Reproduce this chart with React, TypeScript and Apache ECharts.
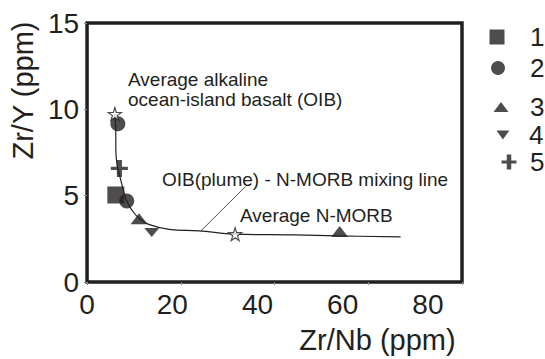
import React, { useEffect, useRef } from "react";
import * as echarts from "echarts";

// Mixing line (OIB – N-MORB)
const mixX = [5.93, 6.14, 6.14, 6.36, 7.0, 7.63, 8.47, 9.53, 11.2, 13.3, 17.5, 23.9, 31.6, 44.3, 53.5, 66.9];
const mixY = [9.73, 8.59, 7.73, 6.87, 6.12, 5.44, 4.69, 4.18, 3.66, 3.32, 3.05, 2.96, 2.77, 2.73, 2.67, 2.61];

// Leader line from label to the curve
const leaderX = [33.8, 24.3];
const leaderY = [5.53, 2.96];

// Sample groups
const s1 = [[6.14, 5.04]];
const s2 = [[6.57, 9.16], [8.47, 4.69]];
const s3 = [[11.1, 3.66], [53.9, 2.92]];
const s4 = [[13.8, 2.86]];
const s5 = [[6.9, 6.58]];

// Reference compositions (stars): average OIB, average N-MORB
const refStars = [[5.93, 9.73], [31.6, 2.77]];

const xTicks = [0, 20, 40, 60, 80];
const yTicks = [0, 5, 10, 15];

const INK = "#231f20";
const FONT = "'Liberation Sans', Arial, sans-serif";
const STAR = "path://M50,0 L61,35 L98,35 L68,57 L79,91 L50,70 L21,91 L32,57 L2,35 L39,35 Z";
const DOWN_TRI = "path://M0,0 L10,0 L5,7 Z";
const PLUS = "path://M0,8 L20,8 L20,12 L0,12 Z M7,0 L13,0 L13,20 L7,20 Z";

export default function App() {
  const ref = useRef<HTMLDivElement>(null);
  useEffect(() => {
    if (!ref.current) return;
    const chart = echarts.init(ref.current, null, { renderer: "svg" });
    const pairs = (xs: number[], ys: number[]) => xs.map((x, i) => [x, ys[i]]);
    const legendDefs = [
      { name: "1", icon: "rect", w: 15, h: 15, cx: 497, cy: 37 },
      { name: "2", icon: "circle", w: 14, h: 14, cx: 498, cy: 68 },
      { name: "3", icon: "triangle", w: 15, h: 10, cx: 501, cy: 107 },
      { name: "4", icon: DOWN_TRI, w: 15, h: 9, cx: 504, cy: 135 },
      { name: "5", icon: PLUS, w: 15, h: 15, cx: 509, cy: 162 },
    ];
    const textLeft = 530;
    chart.setOption({
      animation: false,
      grid: {
        left: 84, top: 23, right: 83, bottom: 74,
        show: true, borderColor: INK, borderWidth: 3.5, backgroundColor: "transparent",
      },
      legend: legendDefs.map((d) => ({
        data: [{ name: d.name, icon: d.icon }],
        left: d.cx - d.w / 2,
        top: d.cy - 14,
        padding: 0,
        itemWidth: d.w,
        itemHeight: d.h,
        selectedMode: false,
        textStyle: {
          fontSize: 26, fontFamily: FONT, color: INK, lineHeight: 28,
          padding: [0, 0, 0, textLeft - (d.cx + d.w / 2 + 5)],
        },
      })),
      xAxis: [
        {
          type: "value", min: xTicks[0], max: xTicks[xTicks.length - 1], interval: 20,
          axisLine: { show: false },
          axisTick: { show: true, length: 3, lineStyle: { color: "#8a8a8a", width: 1 } },
          axisLabel: { show: false },
          splitLine: { show: false },
          name: "Zr/Nb (ppm)", nameLocation: "middle", nameGap: 43,
          nameTextStyle: { fontSize: 29, fontFamily: FONT, color: INK, padding: [0, 0, 0, 206] },
        },
        {
          type: "value", min: 0, max: 88, interval: 20, position: "bottom",
          axisLine: { show: false }, axisTick: { show: false }, splitLine: { show: false },
          axisLabel: { fontSize: 28, fontFamily: FONT, color: INK, margin: 8, showMaxLabel: false },
        },
      ],
      yAxis: {
        type: "value", min: yTicks[0], max: yTicks[yTicks.length - 1], interval: 5,
        axisLine: { show: false },
        axisTick: { show: true, length: 3, lineStyle: { color: "#8a8a8a", width: 1 } },
        axisLabel: { fontSize: 28, fontFamily: FONT, color: INK, margin: 8 },
        splitLine: { show: false },
        name: "Zr/Y (ppm)", nameLocation: "middle", nameGap: 50, nameRotate: 90,
        nameTextStyle: { fontSize: 29, fontFamily: FONT, color: INK, padding: [0, 0, 0, 124] },
      },
      series: [
        {
          name: "mixing", type: "line", data: pairs(mixX, mixY), smooth: 0.4, showSymbol: false,
          lineStyle: { color: INK, width: 1.2 }, z: 1, silent: true,
        },
        {
          name: "leader", type: "line", data: pairs(leaderX, leaderY), showSymbol: false,
          lineStyle: { color: INK, width: 0.8 }, z: 1, silent: true,
        },
        { name: "1", type: "scatter", symbol: "rect", symbolSize: 17, data: s1, itemStyle: { color: INK }, z: 3 },
        { name: "2", type: "scatter", symbol: "circle", symbolSize: 15, data: s2, itemStyle: { color: INK }, z: 3 },
        { name: "3", type: "scatter", symbol: "triangle", symbolSize: [17, 11], data: s3, itemStyle: { color: INK }, z: 3 },
        { name: "4", type: "scatter", symbol: DOWN_TRI, symbolSize: [15, 9], data: s4, itemStyle: { color: INK }, z: 3 },
        { name: "5", type: "scatter", symbol: PLUS, symbolSize: 17, data: s5, itemStyle: { color: INK }, z: 3 },
        {
          name: "ref", type: "scatter", symbol: STAR, symbolSize: 13, data: refStars,
          itemStyle: { color: "#ffffff", borderColor: INK, borderWidth: 1.2 }, z: 5,
        },
      ],
      graphic: [
        { type: "text", left: 128, top: 70, style: { text: "Average alkaline", fontSize: 19, fontFamily: FONT, fill: INK } },
        { type: "text", left: 128, top: 90, style: { text: "ocean-island basalt (OIB)", fontSize: 19, fontFamily: FONT, fill: INK } },
        { type: "text", left: 162, top: 170, style: { text: "OIB(plume) - N-MORB mixing line", fontSize: 19, fontFamily: FONT, fill: INK } },
        { type: "text", left: 240, top: 206, style: { text: "Average N-MORB", fontSize: 19, fontFamily: FONT, fill: INK } },
      ],
    });
    return () => chart.dispose();
  }, []);
  return <div ref={ref} style={{ width: 545, height: 359, position: "absolute", left: 0, top: 0 }} />;
}
